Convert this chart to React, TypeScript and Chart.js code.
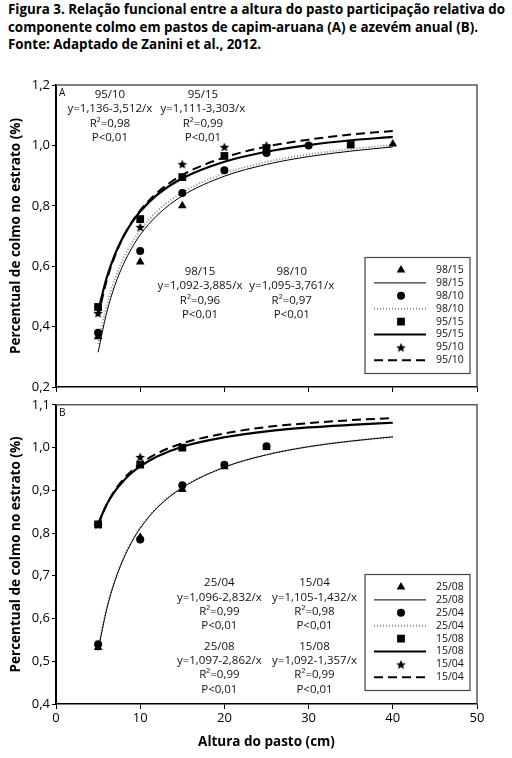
import React, { useEffect, useLayoutEffect, useRef } from "react";
import { Chart, registerables } from "chart.js";
import { drawPoint } from "chart.js/helpers";

Chart.register(...registerables);

const FONT = "'Open Sans', 'DejaVu Sans', sans-serif";

// ---------- shared x values ----------
const pointHeights = [5, 10, 15, 20, 25, 30, 35, 40];
const curveHeights = [5, 6, 7, 8, 9, 10, 12, 15, 20, 25, 30, 35, 40];
const xTickLabels = ["0", "10", "20", "30", "40", "50"];

// ---------- Panel A (capim-aruana) ----------
const aLabels = ["98/15", "98/10", "95/15", "95/10"];
const a9815Points = [0.366, 0.614, 0.8, null, null, null, null, 1.005];
const a9810Points = [0.38, 0.65, 0.842, 0.918, 0.975, 1.0, null, null];
const a9515Points = [0.465, 0.756, 0.895, 0.965, 0.99, null, 1.003, null];
const a9510Points = [0.445, 0.73, 0.938, 0.995, 1.0, null, null, null];
const a9815Curve = [0.315, 0.444, 0.537, 0.606, 0.66, 0.704, 0.768, 0.833, 0.898, 0.937, 0.963, 0.981, 0.995];
const a9810Curve = [0.343, 0.468, 0.558, 0.625, 0.677, 0.719, 0.782, 0.844, 0.907, 0.945, 0.97, 0.988, 1.001];
const a9515Curve = [0.45, 0.56, 0.639, 0.698, 0.744, 0.781, 0.836, 0.891, 0.946, 0.979, 1.001, 1.017, 1.028];
const a9510Curve = [0.434, 0.551, 0.634, 0.697, 0.746, 0.785, 0.843, 0.902, 0.96, 0.996, 1.019, 1.036, 1.048];
const aEquations = [
  ["95/10", "y=1,136-3,512/x", "R²=0,98", "P<0,01"],
  ["95/15", "y=1,111-3,303/x", "R²=0,99", "P<0,01"],
  ["98/15", "y=1,092-3,885/x", "R²=0,96", "P<0,01"],
  ["98/10", "y=1,095-3,761/x", "R²=0,97", "P<0,01"],
];

// ---------- Panel B (azevém anual) ----------
const bLabels = ["25/08", "25/04", "15/08", "15/04"];
const b2508Points = [0.532, 0.79, 0.902, 0.955, 1.0, null, null, null];
const b2504Points = [0.54, 0.785, 0.912, 0.96, 1.003, null, null, null];
const b1508Points = [0.82, 0.96, 1.0, null, null, null, null, null];
const b1504Points = [0.82, 0.978, null, null, null, null, null, null];
const b2508Curve = [0.525, 0.62, 0.688, 0.739, 0.779, 0.811, 0.859, 0.906, 0.954, 0.983, 1.002, 1.015, 1.025];
const b2504Curve = [0.53, 0.624, 0.691, 0.742, 0.781, 0.813, 0.86, 0.907, 0.954, 0.983, 1.002, 1.015, 1.025];
const b1508Curve = [0.821, 0.866, 0.898, 0.922, 0.941, 0.956, 0.979, 1.002, 1.024, 1.038, 1.047, 1.053, 1.058];
const b1504Curve = [0.819, 0.866, 0.9, 0.926, 0.946, 0.962, 0.986, 1.01, 1.033, 1.048, 1.057, 1.064, 1.069];
const bEquations = [
  ["25/04", "y=1,096-2,832/x", "R²=0,99", "P<0,01"],
  ["25/08", "y=1,097-2,862/x", "R²=0,99", "P<0,01"],
  ["15/04", "y=1,105-1,432/x", "R²=0,98", "P<0,01"],
  ["15/08", "y=1,092-1,357/x", "R²=0,99", "P<0,01"],
];

const titleLines = [
  "Figura 3. Relação funcional entre a altura do pasto participação relativa do",
  "componente colmo em pastos de capim-aruana (A) e azevém anual (B).",
  "Fonte: Adaptado de Zanini et al., 2012.",
];

// ---------- styles ----------
function makeStar(r: number): HTMLCanvasElement {
  const c = document.createElement("canvas");
  const s = Math.ceil(r * 2 + 2);
  c.width = s;
  c.height = s;
  const ctx = c.getContext("2d")!;
  ctx.fillStyle = "#000";
  ctx.beginPath();
  for (let i = 0; i < 10; i++) {
    const rr = i % 2 === 0 ? r : r * 0.45;
    const a = -Math.PI / 2 + (i * Math.PI) / 5;
    ctx.lineTo(s / 2 + rr * Math.cos(a), s / 2 + rr * Math.sin(a) + 0.5);
  }
  ctx.closePath();
  ctx.fill();
  return c;
}

const markerStyles = () => [
  { pointStyle: "triangle" as any, radius: 5 },
  { pointStyle: "circle" as any, radius: 4 },
  { pointStyle: "rect" as any, radius: 5.5 },
  { pointStyle: makeStar(5) as any, radius: 5 },
];
const lineStyles = [
  { color: "#000", width: 1, dash: [] as number[] },
  { color: "#8c8c8c", width: 2, dash: [1, 2] },
  { color: "#000", width: 2.2, dash: [] as number[] },
  { color: "#000", width: 2, dash: [9, 5] },
];

type PanelSpec = {
  letter: string;
  labels: string[];
  points: (number | null)[][];
  curves: number[][];
  equations: string[][];
  notePos: { x: number; y: number }[];
  yMin: number;
  yMax: number;
  yStep: number;
  showX: boolean;
  padTop: number;
  xHeight: number;
};

function buildConfig(p: PanelSpec): any {
  const markers = markerStyles();
  const datasets: any[] = [];
  p.labels.forEach((lab, i) => {
    datasets.push({
      label: lab,
      kind: "points",
      data: pointHeights
        .map((x, k) => ({ x, y: p.points[i][k] }))
        .filter((d) => d.y !== null),
      showLine: false,
      pointStyle: markers[i].pointStyle,
      pointRadius: markers[i].radius,
      pointBackgroundColor: "#000",
      pointBorderColor: "#000",
      pointBorderWidth: 0,
      order: 0,
    });
    datasets.push({
      label: lab,
      kind: "line",
      data: curveHeights.map((x, k) => ({ x, y: p.curves[i][k] })),
      showLine: true,
      pointRadius: 0,
      borderColor: lineStyles[i].color,
      borderWidth: lineStyles[i].width,
      borderDash: lineStyles[i].dash,
      cubicInterpolationMode: "monotone",
      fill: false,
      order: 1,
    });
  });

  const framePlugin = {
    id: "frame" + p.letter,
    afterDraw(chart: any) {
      const { ctx, chartArea: a } = chart;
      ctx.save();
      ctx.strokeStyle = "#5a5a5a";
      ctx.lineWidth = 1.5;
      ctx.beginPath();
      ctx.moveTo(a.left, a.top);
      ctx.lineTo(a.right, a.top);
      ctx.lineTo(a.right, a.bottom);
      ctx.stroke();
      ctx.fillStyle = "#000";
      ctx.font = `10px ${FONT}`;
      ctx.textAlign = "left";
      ctx.textBaseline = "middle";
      ctx.fillText(p.letter, a.left + 3, a.top + 8);
      ctx.restore();
    },
  };

  const notesPlugin = {
    id: "notes" + p.letter,
    afterDatasetsDraw(chart: any) {
      const { ctx, scales } = chart;
      ctx.save();
      ctx.fillStyle = "#111";
      ctx.font = `11.5px ${FONT}`;
      ctx.textAlign = "center";
      ctx.textBaseline = "middle";
      p.equations.forEach((lines, i) => {
        const cx = scales.x.getPixelForValue(p.notePos[i].x);
        const cy = scales.y.getPixelForValue(p.notePos[i].y);
        lines.forEach((t, j) => ctx.fillText(t, cx, cy + j * 14.2));
      });
      ctx.restore();
    },
  };

  const legendPlugin = {
    id: "legendBox" + p.letter,
    afterDraw(chart: any) {
      const { ctx, chartArea: a } = chart;
      const left = a.right - 112;
      const top = a.bottom - 129.5;
      const w = 105;
      const h = 116;
      ctx.save();
      ctx.fillStyle = "#fff";
      ctx.fillRect(left, top, w, h);
      ctx.strokeStyle = "#444";
      ctx.lineWidth = 1.2;
      ctx.strokeRect(left, top, w, h);
      chart.data.datasets.forEach((ds: any, i: number) => {
        const y = top + 12.5 + i * 12.9;
        if (ds.kind === "points") {
          ctx.fillStyle = "#000";
          ctx.strokeStyle = "#000";
          drawPoint(ctx, { pointStyle: ds.pointStyle, radius: ds.pointRadius, rotation: 0, borderWidth: 0 } as any, left + 36, y);
        } else {
          ctx.strokeStyle = ds.borderColor;
          ctx.lineWidth = ds.borderWidth;
          ctx.setLineDash(ds.borderDash || []);
          ctx.beginPath();
          ctx.moveTo(left + 9, y);
          ctx.lineTo(left + 61, y);
          ctx.stroke();
          ctx.setLineDash([]);
        }
        ctx.fillStyle = "#111";
        ctx.font = `10.5px ${FONT}`;
        ctx.textAlign = "left";
        ctx.textBaseline = "middle";
        ctx.fillText(ds.label, left + 71, y);
      });
      ctx.restore();
    },
  };

  return {
    type: "scatter",
    data: { datasets },
    options: {
      animation: false,
      responsive: false,
      maintainAspectRatio: false,
      layout: { padding: { left: 0, right: 35, top: p.padTop, bottom: 0 } },
      plugins: { legend: { display: false }, tooltip: { enabled: false } },
      scales: {
        x: {
          type: "linear",
          min: 0,
          max: 50,
          ticks: {
            stepSize: 10,
            display: p.showX,
            color: "#000",
            padding: 1,
            font: { family: FONT, size: 13 },
            callback: (v: any, idx: number) => xTickLabels[idx] ?? String(v),
          },
          grid: { display: true, drawOnChartArea: false, drawTicks: true, tickLength: 5, color: "#000", tickColor: "#000" },
          border: { display: true, color: "#000", width: 1.5 },
          title: {
            display: p.showX,
            text: "Altura do pasto (cm)",
            color: "#000",
            font: { family: FONT, size: 13.5, weight: "bold" },
            padding: { top: 0, bottom: 8 },
          },
          afterFit: (s: any) => {
            s.height = p.xHeight;
          },
        },
        y: {
          type: "linear",
          min: p.yMin,
          max: p.yMax,
          ticks: {
            stepSize: p.yStep,
            color: "#000",
            padding: 2,
            font: { family: FONT, size: 13 },
            callback: (v: any) => Number(v).toFixed(1).replace(".", ","),
          },
          grid: { display: true, drawOnChartArea: false, drawTicks: true, tickLength: 4, color: "#000", tickColor: "#000" },
          border: { display: true, color: "#000", width: 2 },
          title: {
            display: true,
            text: "Percentual de colmo no estrato (%)",
            color: "#000",
            font: { family: FONT, size: 13.5, weight: "bold" },
            padding: { top: 8.5, bottom: 0 },
          },
          afterFit: (s: any) => {
            s.width = 56;
          },
        },
      },
    },
    plugins: [framePlugin, notesPlugin, legendPlugin],
  };
}

const panelA: PanelSpec = {
  letter: "A",
  labels: aLabels,
  points: [a9815Points, a9810Points, a9515Points, a9510Points],
  curves: [a9815Curve, a9810Curve, a9515Curve, a9510Curve],
  equations: aEquations,
  notePos: [
    { x: 6.4, y: 1.167 },
    { x: 17.45, y: 1.167 },
    { x: 17.1, y: 0.581 },
    { x: 28.0, y: 0.581 },
  ],
  yMin: 0.2,
  yMax: 1.2,
  yStep: 0.2,
  showX: false,
  padTop: 15,
  xHeight: 13,
};

const panelB: PanelSpec = {
  letter: "B",
  labels: bLabels,
  points: [b2508Points, b2504Points, b1508Points, b1504Points],
  curves: [b2508Curve, b2504Curve, b1508Curve, b1504Curve],
  equations: bEquations,
  notePos: [
    { x: 19.4, y: 0.683 },
    { x: 19.4, y: 0.534 },
    { x: 30.7, y: 0.683 },
    { x: 30.7, y: 0.534 },
  ],
  yMin: 0.4,
  yMax: 1.1,
  yStep: 0.1,
  showX: true,
  padTop: 7,
  xHeight: 54,
};

function Panel({ spec, top, height }: { spec: PanelSpec; top: number; height: number }) {
  const ref = useRef<HTMLCanvasElement>(null);
  useEffect(() => {
    if (!ref.current) return;
    const chart = new Chart(ref.current, buildConfig(spec));
    return () => chart.destroy();
  }, [spec]);
  return (
    <canvas
      ref={ref}
      width={512}
      height={height}
      style={{ position: "absolute", left: 0, top, width: 512, height }}
    />
  );
}

function Title() {
  const ref = useRef<HTMLDivElement>(null);
  useLayoutEffect(() => {
    const el = ref.current;
    if (!el) return;
    const first = el.querySelector("span") as HTMLSpanElement | null;
    if (!first) return;
    const w = first.getBoundingClientRect().width;
    if (w > 0) el.style.transform = `scaleX(${497 / w})`;
  }, []);
  return (
    <div
      ref={ref}
      style={{
        position: "absolute",
        left: 8,
        top: 0,
        transformOrigin: "left top",
        font: `bold 14.5px ${FONT}`,
        lineHeight: "17.5px",
        whiteSpace: "nowrap",
        color: "#000",
      }}
    >
      {titleLines.map((l, i) => (
        <div key={i}>
          <span>{l}</span>
        </div>
      ))}
    </div>
  );
}

export default function App() {
  return (
    <div style={{ position: "relative", width: 512, height: 758, background: "#fff", overflow: "hidden" }}>
      <style>{`body{margin:0;background:#fff}`}</style>
      <Title />
      <Panel spec={panelA} top={70} height={330} />
      <Panel spec={panelB} top={395} height={363} />
    </div>
  );
}
